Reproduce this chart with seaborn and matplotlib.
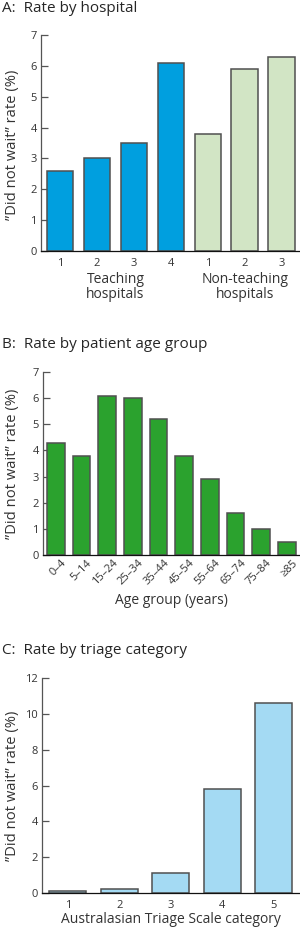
import matplotlib
matplotlib.use("Agg")
import matplotlib.pyplot as plt
import matplotlib.transforms as mtransforms
import seaborn as sns
import pandas as pd

# ---------------- data ----------------
hosp_ids = ["T1", "T2", "T3", "T4", "N1", "N2", "N3"]
hosp_ticklabels = ["1", "2", "3", "4", "1", "2", "3"]
hosp_type = ["Teaching", "Teaching", "Teaching", "Teaching",
             "Non-teaching", "Non-teaching", "Non-teaching"]
hosp_rate = [2.6, 3.0, 3.5, 6.1, 3.8, 5.9, 6.3]
hosp_groups = ["Teaching\nhospitals", "Non-teaching\nhospitals"]

age_groups = ["0\u20134", "5\u201314", "15\u201324", "25\u201334", "35\u201344",
              "45\u201354", "55\u201364", "65\u201374", "75\u201384", "\u226585"]
age_rate = [4.3, 3.8, 6.1, 6.0, 5.2, 3.8, 2.9, 1.6, 1.0, 0.5]

triage_cats = ["1", "2", "3", "4", "5"]
triage_rate = [0.1, 0.2, 1.1, 5.8, 10.6]

sns.set_style("ticks")
plt.rcParams["font.family"] = ["Open Sans", "DejaVu Sans"]

W, H = 300, 931
fig = plt.figure(figsize=(W / 100, H / 100), dpi=100)

def ax_px(left, right, top, bottom):
    return fig.add_axes([left / W, 1 - bottom / H, (right - left) / W, (bottom - top) / H])

EDGE = "#505050"
TXT = "#333333"
ylab = "\u201DDid not wait\u201D rate (%)"
TICK_FS = 8.0
LAB_FS = 10.0
YLAB_FS = 10.6
TITLE_FS = 11.0

def style(ax, ymax, ystep):
    ax.set_ylim(0, ymax)
    ax.set_yticks(range(0, ymax + 1, ystep))
    ax.tick_params(axis="y", direction="in", length=5, width=0.9, color="#555555",
                   labelsize=TICK_FS, labelcolor=TXT, pad=3)
    ax.tick_params(axis="x", length=0, labelsize=TICK_FS, labelcolor=TXT, pad=5)
    for s in ["top", "right"]:
        ax.spines[s].set_visible(False)
    ax.spines["left"].set_color("#555555")
    ax.spines["left"].set_linewidth(0.9)
    ax.spines["bottom"].set_color("#111111")
    ax.spines["bottom"].set_linewidth(0.9)
    ax.set_xlabel("")
    ax.set_ylabel(ylab, fontsize=YLAB_FS, color=TXT)

# ---------------- Panel A ----------------
axA = ax_px(41, 299, 35, 251)
dfA = pd.DataFrame({"id": hosp_ids, "rate": hosp_rate, "type": hosp_type})
sns.barplot(data=dfA, x="id", y="rate", hue="type", order=hosp_ids,
            palette={"Teaching": "#009FDF", "Non-teaching": "#D2E5C5"},
            saturation=1, dodge=False, width=0.72, edgecolor=EDGE, linewidth=1.1,
            legend=False, ax=axA)
style(axA, 7, 1)
axA.set_xlim(-0.52, 6.47)
axA.set_xticks(range(len(hosp_ids)))
axA.set_xticklabels(hosp_ticklabels)
axA.yaxis.set_label_coords(-0.082, 0.49)
trA = mtransforms.blended_transform_factory(axA.transData, axA.transAxes)
axA.text(1.5, -0.166, hosp_groups[0], transform=trA, ha="center", va="center",
         fontsize=LAB_FS, color=TXT, linespacing=1.0)
axA.text(5.0, -0.166, hosp_groups[1], transform=trA, ha="center", va="center",
         fontsize=LAB_FS, color=TXT, linespacing=1.0)
fig.text(2 / W, 1 - 9 / H, "A:  Rate by hospital", fontsize=TITLE_FS, va="center", ha="left")

# ---------------- Panel B ----------------
axB = ax_px(43, 299, 372, 555)
dfB = pd.DataFrame({"age": age_groups, "rate": age_rate})
sns.barplot(data=dfB, x="age", y="rate", order=age_groups, color="#2BA22E",
            saturation=1, width=0.69, edgecolor=EDGE, linewidth=1.1, ax=axB)
style(axB, 7, 1)
axB.set_xlim(-0.5, 9.47)
axB.set_xticks(range(len(age_groups)))
axB.set_xticklabels(age_groups, rotation=45, ha="right", rotation_mode="anchor")
axB.tick_params(axis="x", pad=2)
off = mtransforms.ScaledTranslation(5 / 100, 0, fig.dpi_scale_trans)
for lab in axB.get_xticklabels():
    lab.set_transform(lab.get_transform() + off)
axB.set_xlabel("Age group (years)", fontsize=LAB_FS, color=TXT, labelpad=4)
axB.yaxis.set_label_coords(-0.09, 0.5)
fig.text(2 / W, 1 - 345 / H, "B:  Rate by patient age group", fontsize=TITLE_FS, va="center", ha="left")

# ---------------- Panel C ----------------
axC = ax_px(42, 299, 678, 893)
dfC = pd.DataFrame({"cat": triage_cats, "rate": triage_rate})
sns.barplot(data=dfC, x="cat", y="rate", order=triage_cats, color="#A4DAF3",
            saturation=1, width=0.72, edgecolor=EDGE, linewidth=1.1, ax=axC)
style(axC, 12, 2)
axC.set_xlim(-0.5, 4.49)
axC.set_xlabel("Australasian Triage Scale category", fontsize=LAB_FS, color=TXT, labelpad=1)
axC.yaxis.set_label_coords(-0.086, 0.5)
fig.text(2 / W, 1 - 650 / H, "C:  Rate by triage category", fontsize=TITLE_FS, va="center", ha="left")

fig.savefig("out.png", dpi=100)
